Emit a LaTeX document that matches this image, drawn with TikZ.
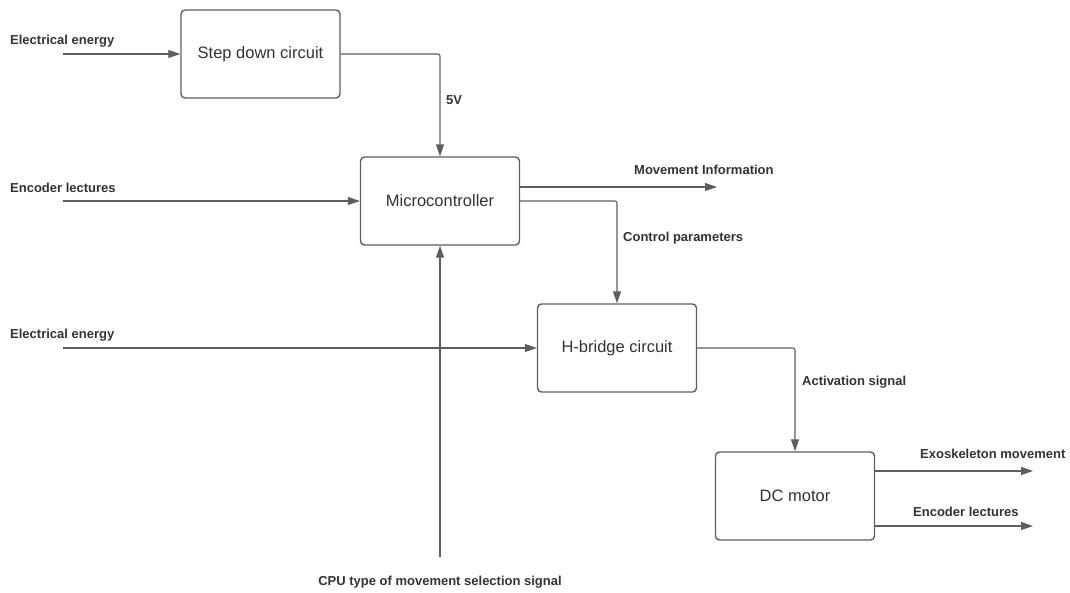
\documentclass[tikz,border=0pt]{standalone}
\usepackage{fontspec}
\setmainfont{Liberation Sans}
\usepackage{tikz}
\usetikzlibrary{arrows.meta, positioning, calc}
\definecolor{linegray}{HTML}{5E5E5E}
\definecolor{textgray}{HTML}{333333}

\begin{document}
\begin{tikzpicture}[
	x=1pt, y=-1pt,
	block/.style={rectangle, draw=linegray, line width=1.4pt, fill=white, rounded corners=4pt, minimum width=159pt, minimum height=88pt, text=textgray, font=\fontsize{16.5}{19}\selectfont},
	lbl/.style={anchor=west, inner sep=0pt, text=textgray, font=\fontsize{13}{15}\selectfont\bfseries},
	arrow/.style={-{Triangle[length=12pt, width=8pt]}, line width=1.1pt, draw=linegray, rounded corners=2pt}
]
\useasboundingbox (0,0) rectangle (1070,592);

% Blocks
\node[block] (S) at (260.5,54) {Step down circuit};
\node[block] (M) at (440,201) {Microcontroller};
\node[block] (H) at (617,348) {H-bridge circuit};
\node[block] (D) at (795,496) {DC motor};

% Free ends
\coordinate (in1) at (63,54);
\coordinate (in2) at (63,201);
\coordinate (in3) at (63,348);
\coordinate (cpu) at (440,557);
\coordinate (mvout) at (717,187);
\coordinate (exout) at (1033,471);
\coordinate (enout) at (1033,526);

% Inputs
\draw[arrow] (in1) -- (S.west);
\node[lbl] (l1) at (10,41) {Electrical energy};
\draw[arrow] (in2) -- (M.west);
\node[lbl] (l2) at (10,188) {Encoder lectures};
\draw[arrow] (in3) -- (H.west);
\node[lbl] (l3) at (10,335) {Electrical energy};
\draw[arrow] (cpu) -- (M.south);
\node[lbl, anchor=center] (l4) at (440,582) {CPU type of movement selection signal};

% Step down to microcontroller
\draw[arrow] (S.east) -| (M.north);
\node[lbl] (l5) at (446,100) {5V};

% Microcontroller outputs
\draw[arrow] ([yshift=14pt]M.east) -- (mvout);
\node[lbl] (l6) at (634,170) {Movement Information};
\draw[arrow] (M.east) -| (H.north);
\node[lbl] (l7) at (623,238) {Control parameters};

% H-bridge to motor
\draw[arrow] (H.east) -| (D.north);
\node[lbl] (l8) at (802,382) {Activation signal};

% Motor outputs
\draw[arrow] ([yshift=25pt]D.east) -- (exout);
\node[lbl] (l9) at (920,454) {Exoskeleton movement};
\draw[arrow] ([yshift=-30pt]D.east) -- (enout);
\node[lbl] (l10) at (913,512) {Encoder lectures};
\end{tikzpicture}
\end{document}
